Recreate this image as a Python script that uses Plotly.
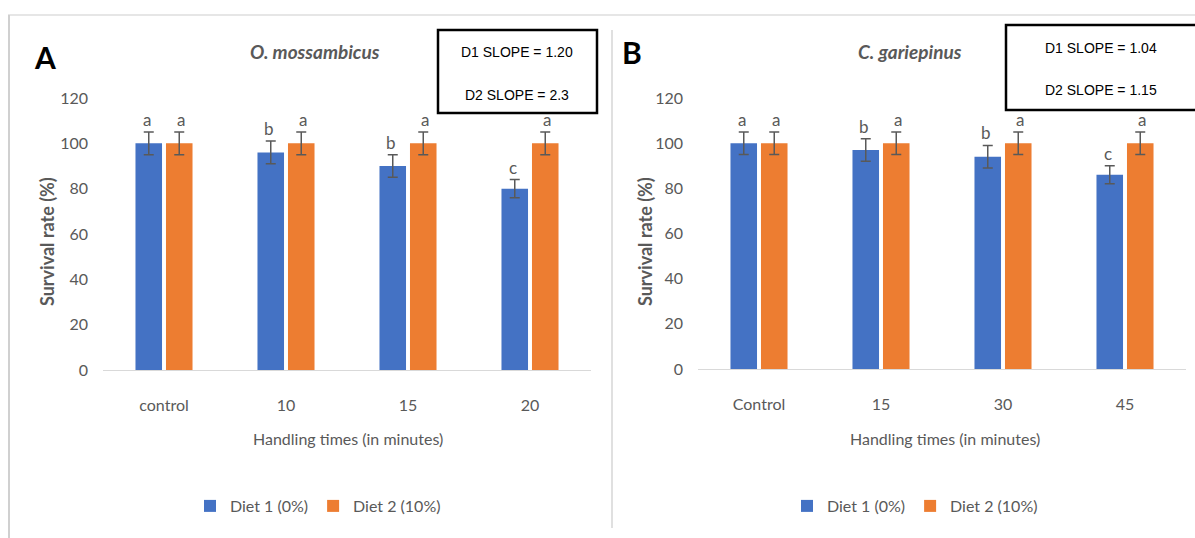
import plotly.graph_objects as go

# ---- data ----
cats_a = ["control", "10", "15", "20"]
diet1_a = [100, 96, 90, 80]
diet2_a = [100, 100, 100, 100]
err1_a = [5, 5, 5, 4]
err2_a = [5, 5, 5, 5]
lab1_a = ["a", "b", "b", "c"]
lab2_a = ["a", "a", "a", "a"]

cats_b = ["Control", "15", "30", "45"]
diet1_b = [100, 97, 94, 86]
diet2_b = [100, 100, 100, 100]
err1_b = [5, 5, 5, 4]
err2_b = [5, 5, 5, 5]
lab1_b = ["a", "b", "b", "c"]
lab2_b = ["a", "a", "a", "a"]

series_names = ["Diet 1 (0%)", "Diet 2 (10%)"]
slopes_a = ["D1 SLOPE = 1.20", "D2 SLOPE = 2.3"]
slopes_b = ["D1 SLOPE = 1.04", "D2 SLOPE = 1.15"]

BLUE = "#4472C4"
ORANGE = "#ED7D31"
GRAY = "#595959"
FONT = "Lato"
W, H = 1195, 538

def px(x):
    return x / W

def py(y):
    return 1 - y / H

fig = go.Figure()

for cats, d1, d2, e1, e2, xa, ya, lg in [
    (cats_a, diet1_a, diet2_a, err1_a, err2_a, "x", "y", "legend"),
    (cats_b, diet1_b, diet2_b, err1_b, err2_b, "x2", "y2", "legend2"),
]:
    for vals, errs, col, name in [(d1, e1, BLUE, series_names[0]), (d2, e2, ORANGE, series_names[1])]:
        fig.add_trace(go.Bar(
            x=cats, y=vals, name=name, marker=dict(color=col, line=dict(width=0)),
            error_y=dict(type="data", array=errs, color=GRAY, thickness=1.5, width=5),
            xaxis=xa, yaxis=ya, legend=lg,
        ))

annotations = []
for cats, d1, d2, e1, e2, l1, l2, xr, yr in [
    (cats_a, diet1_a, diet2_a, err1_a, err2_a, lab1_a, lab2_a, "x", "y"),
    (cats_b, diet1_b, diet2_b, err1_b, err2_b, lab1_b, lab2_b, "x2", "y2"),
]:
    for i, c in enumerate(cats):
        annotations.append(dict(x=i, y=d1[i] + e1[i], xref=xr, yref=yr, text=l1[i], showarrow=False,
                                xshift=-17, xanchor="center", yanchor="bottom", yshift=0,
                                font=dict(family=FONT, size=17, color=GRAY)))
        annotations.append(dict(x=i, y=d2[i] + e2[i], xref=xr, yref=yr, text=l2[i], showarrow=False,
                                xshift=17, xanchor="center", yanchor="bottom", yshift=0,
                                font=dict(family=FONT, size=17, color=GRAY)))

# panel text
common = dict(xref="paper", yref="paper", showarrow=False, xanchor="center", yanchor="middle")
annotations += [
    dict(x=px(45), y=py(57), text="<b>A</b>", font=dict(family=FONT, size=30, color="black"), **common),
    dict(x=px(632), y=py(52), text="<b>B</b>", font=dict(family=FONT, size=30, color="black"), **common),
    dict(x=px(315), y=py(52), text="<b><i>O. mossambicus</i></b>", font=dict(family=FONT, size=19, color=GRAY), **common),
    dict(x=px(910), y=py(52), text="<b><i>C. gariepinus</i></b>", font=dict(family=FONT, size=19, color=GRAY), **common),
    dict(x=px(517), y=py(52), text=slopes_a[0], font=dict(family="Liberation Sans", size=14, color="black"), **common),
    dict(x=px(517), y=py(95), text=slopes_a[1], font=dict(family="Liberation Sans", size=14, color="black"), **common),
    dict(x=px(1101), y=py(48), text=slopes_b[0], font=dict(family="Liberation Sans", size=14, color="black"), **common),
    dict(x=px(1101), y=py(90), text=slopes_b[1], font=dict(family="Liberation Sans", size=14, color="black"), **common),
    dict(x=px(47), y=py(242), text="<b>Survival rate (%)</b>", textangle=-90, font=dict(family=FONT, size=18, color=GRAY), **common),
    dict(x=px(645), y=py(242), text="<b>Survival rate (%)</b>", textangle=-90, font=dict(family=FONT, size=18, color=GRAY), **common),
    dict(x=px(348), y=py(438), text="Handling times (in minutes)", font=dict(family=FONT, size=16, color=GRAY), **common),
    dict(x=px(945), y=py(438), text="Handling times (in minutes)", font=dict(family=FONT, size=16, color=GRAY), **common),
]

shapes = [
    dict(type="rect", xref="paper", yref="paper", x0=px(438), x1=px(597), y0=py(30), y1=py(113),
         line=dict(color="black", width=2.5)),
    dict(type="rect", xref="paper", yref="paper", x0=px(1006), x1=px(1197), y0=py(25), y1=py(110),
         line=dict(color="black", width=2.5)),
    dict(type="line", xref="paper", yref="paper", x0=px(8), x1=px(1195), y0=py(15), y1=py(15),
         line=dict(color="#e6e6e6", width=2)),
    dict(type="line", xref="paper", yref="paper", x0=px(9), x1=px(9), y0=py(15), y1=py(538),
         line=dict(color="#d0d0d0", width=2)),
    dict(type="line", xref="paper", yref="paper", x0=px(612), x1=px(612), y0=py(30), y1=py(528),
         line=dict(color="#e0e0e0", width=2)),
]

xcommon = dict(type="category", showgrid=False, showline=True, linecolor="#d9d9d9", linewidth=1,
               ticks="", tickfont=dict(family=FONT, size=16, color=GRAY), range=[-0.5, 3.5],
               ticklabelstandoff=21, automargin=False, zeroline=False)
ycommon = dict(range=[0, 120], dtick=20, showgrid=False, showline=False, zeroline=False, ticks="",
               tickfont=dict(family=FONT, size=16, color=GRAY), ticklabelstandoff=14, automargin=False)

fig.update_layout(
    template="none",
    width=W, height=H, margin=dict(l=0, r=0, t=0, b=0, pad=0, autoexpand=False),
    paper_bgcolor="white", plot_bgcolor="white",
    barmode="group", bargap=0.5, bargroupgap=0.13,
    xaxis=dict(domain=[px(103), px(591)], anchor="y", **xcommon),
    yaxis=dict(domain=[py(370), py(98)], anchor="x", **ycommon),
    xaxis2=dict(domain=[px(698), px(1186)], anchor="y2", **xcommon),
    yaxis2=dict(domain=[py(369), py(98)], anchor="x2", **ycommon),
    legend=dict(orientation="h", x=px(318), y=py(506), xanchor="center", yanchor="middle",
                font=dict(family=FONT, size=16, color=GRAY), itemwidth=30, bgcolor="rgba(0,0,0,0)"),
    legend2=dict(orientation="h", x=px(915), y=py(506), xanchor="center", yanchor="middle",
                 font=dict(family=FONT, size=16, color=GRAY), itemwidth=30, bgcolor="rgba(0,0,0,0)"),
    annotations=annotations, shapes=shapes, showlegend=True,
)

fig.write_html("out.html", config={"displayModeBar": False},
               post_script="document.body.style.margin='0';document.body.style.overflow='hidden';")
